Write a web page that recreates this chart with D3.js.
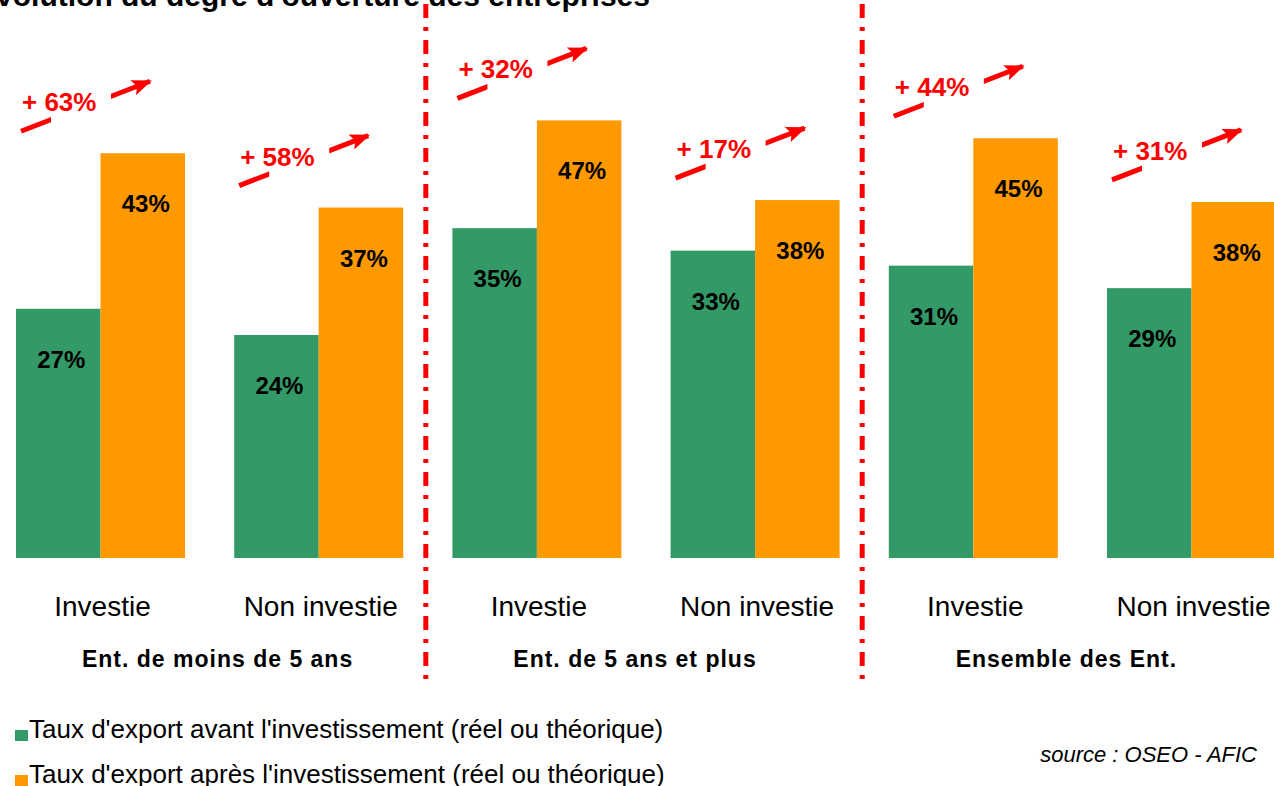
<!DOCTYPE html>
<html>
<head>
<meta charset="utf-8">
<script src="https://cdn.jsdelivr.net/npm/d3@7"></script>
<style>
  html, body { margin: 0; padding: 0; background: #fff; overflow: hidden; }
  svg { display: block; font-family: "Liberation Sans", Arial, sans-serif; }
</style>
</head>
<body>
<div id="wrapper"></div>
<script>
// data
const groups = ["Ent. de moins de 5 ans", "Ent. de 5 ans et plus", "Ensemble des Ent."];
const categories = ["Investie", "Non investie", "Investie", "Non investie", "Investie", "Non investie"];
const avant = [26.6, 23.8, 35.2, 32.8, 31.2, 28.8];
const apres = [43.2, 37.4, 46.7, 38.2, 44.8, 38.0];
const hausse = ["+ 63%", "+ 58%", "+ 32%", "+ 17%", "+ 44%", "+ 31%"];
const seriesNames = [
  "Taux d'export avant l'investissement (réel ou théorique)",
  "Taux d'export après l'investissement (réel ou théorique)"
];
const colors = ["#339966", "#FF9900"];
const red = "#FF0000";

function drawChart() {
  const width = 1274;
  const height = 786;
  const baseY = 558;

  const svg = d3.select("#wrapper")
    .append("svg")
    .attr("width", width)
    .attr("height", height);

  const dataset = categories.map((c, i) => ({ i, cat: c, values: [avant[i], apres[i]], hausse: hausse[i] }));

  // scales
  const x0 = d3.scaleBand()
    .domain(d3.range(categories.length))
    .range([16, 1276])
    .paddingInner(0.2255)
    .paddingOuter(0);

  const x1 = d3.scaleBand()
    .domain([0, 1])
    .range([0, x0.bandwidth()]);

  const y = d3.scaleLinear()
    .domain([0, 50])
    .range([baseY, baseY - 50 * 9.37]);

  // title (cut off at top in the original)
  svg.append("text")
    .attr("x", 650)
    .attr("y", 6)
    .attr("text-anchor", "end")
    .style("font-size", "30px")
    .style("font-weight", "bold")
    .text("Evolution du degré d'ouverture des entreprises");

  // bars
  const cluster = svg.selectAll(".cluster")
    .data(dataset)
    .join("g")
    .attr("class", "cluster")
    .attr("transform", d => `translate(${x0(d.i)},0)`);

  cluster.selectAll("rect")
    .data(d => d.values.map((v, k) => ({ k, v })))
    .join("rect")
    .attr("x", d => x1(d.k))
    .attr("width", x1.bandwidth())
    .attr("y", d => y(d.v))
    .attr("height", d => y(0) - y(d.v))
    .attr("fill", d => colors[d.k]);

  cluster.selectAll(".val")
    .data(d => d.values.map((v, k) => ({ k, v })))
    .join("text")
    .attr("class", "val")
    .attr("x", d => x1(d.k) + x1.bandwidth() / 2 + 3)
    .attr("y", d => y(d.v) + 59)
    .attr("text-anchor", "middle")
    .style("font-size", "24px")
    .style("font-weight", "bold")
    .style("fill", "#000")
    .text(d => Math.round(d.v) + "%");

  // increase arrows
  const defs = svg.append("defs");
  defs.append("marker")
    .attr("id", "head")
    .attr("markerUnits", "userSpaceOnUse")
    .attr("viewBox", "0 0 20 16")
    .attr("refX", 18)
    .attr("refY", 8)
    .attr("markerWidth", 20)
    .attr("markerHeight", 16)
    .attr("orient", "auto")
    .append("path")
    .attr("d", "M0,0 L20,8 L0,16 L4,8 Z")
    .attr("fill", red);

  const arrows = cluster.append("g").attr("class", "arrow");

  arrows.append("line")
    .attr("x1", 5)
    .attr("y1", d => y(d.values[1]) - 22)
    .attr("x2", 134)
    .attr("y2", d => y(d.values[1]) - 72)
    .attr("stroke", red)
    .attr("stroke-width", 5)
    .attr("marker-end", "url(#head)");

  arrows.append("rect")
    .attr("x", 35)
    .attr("width", 60)
    .attr("y", d => y(d.values[1]) - 66)
    .attr("height", 40)
    .attr("fill", "#fff");

  arrows.append("text")
    .attr("x", 6)
    .attr("y", d => y(d.values[1]) - 42)
    .style("font-size", "26px")
    .style("font-weight", "bold")
    .style("fill", red)
    .text(d => d.hausse);

  // category axis
  const xAxis = d3.axisBottom(x0)
    .tickSize(0)
    .tickFormat(i => categories[i]);

  svg.append("g")
    .attr("transform", `translate(0,${baseY})`)
    .call(xAxis)
    .call(g => g.select(".domain").remove())
    .call(g => g.selectAll("text")
      .attr("y", 58)
      .attr("dy", 0)
      .attr("dx", 2)
      .style("font-family", "'Liberation Sans', Arial, sans-serif")
      .style("font-size", "28px")
      .style("fill", "#000"));

  // group labels
  svg.selectAll(".group")
    .data(groups)
    .join("text")
    .attr("class", "group")
    .attr("x", (g, j) => (x0(2 * j) + x0(2 * j + 1) + x0.bandwidth()) / 2 + [8, -11, -16][j])
    .attr("y", 667)
    .attr("text-anchor", "middle")
    .style("font-size", "23px")
    .style("font-weight", "bold")
    .style("letter-spacing", "1px")
    .text(g => g);

  // dividers between groups
  const dividers = [2, 4].map(i => (x0(i - 1) + x0.bandwidth() + x0(i)) / 2 - 2);
  svg.selectAll(".divider")
    .data(dividers)
    .join("line")
    .attr("class", "divider")
    .attr("x1", d => d)
    .attr("x2", d => d)
    .attr("y1", 4)
    .attr("y2", 688)
    .attr("stroke", red)
    .attr("stroke-width", 5)
    .attr("stroke-dasharray", "14 9 4 9");

  // legend
  const legend = svg.selectAll(".legend")
    .data(seriesNames)
    .join("g")
    .attr("class", "legend")
    .attr("transform", (d, k) => `translate(15,${730 + k * 45})`);

  legend.append("rect")
    .attr("width", 13)
    .attr("height", 11)
    .attr("fill", (d, k) => colors[k]);

  legend.append("text")
    .attr("x", 14)
    .attr("y", 8)
    .style("font-size", "26px")
    .text(d => d);

  // source
  svg.append("text")
    .attr("x", 1257)
    .attr("y", 762)
    .attr("text-anchor", "end")
    .style("font-size", "22px")
    .style("font-style", "italic")
    .text("source : OSEO - AFIC");
}

drawChart();
</script>
</body>
</html>
